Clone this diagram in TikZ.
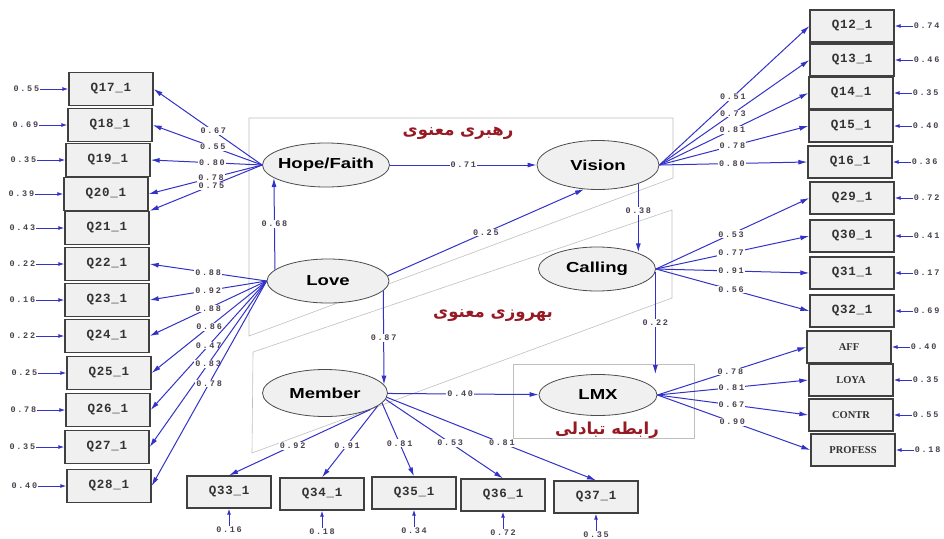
\documentclass[tikz,border=0pt]{standalone}
\usepackage{fontspec}
\setmainfont{Liberation Sans}
\newfontfamily\boxfont[LetterSpace=6]{Liberation Mono}
\newfontfamily\numfont[LetterSpace=20]{Liberation Mono}
\newfontfamily\latfont[FakeStretch=1.28]{Liberation Sans}
\newfontfamily\indfont{Liberation Serif}
\newfontfamily\farsifont[Script=Arabic]{DejaVu Sans}
\TeXXeTstate=1
\usepackage{tikz}
\usetikzlibrary{arrows.meta}
\usetikzlibrary{calc}
\usetikzlibrary{positioning}
\usetikzlibrary{shapes.geometric}
\definecolor{pathblue}{RGB}{50,50,200}
\definecolor{boxgray}{RGB}{240,240,240}
\definecolor{numgray}{RGB}{75,65,80}
\definecolor{farsired}{RGB}{150,25,35}

\begin{document}
\begin{tikzpicture}[x=1pt, y=-1pt,
    obs/.style={rectangle, draw=black!75, line width=1.3pt, fill=boxgray, minimum width=84pt, minimum height=32pt, inner sep=0pt, text=black!80, font=\boxfont\bfseries\fontsize{12.5}{12.5}\selectfont},
    ind/.style={obs, font=\indfont\bfseries\fontsize{10.5}{10.5}\selectfont},
    lat/.style={ellipse, draw=black!70, line width=0.8pt, fill=boxgray, minimum width=122pt, minimum height=44pt, inner xsep=-12pt, inner ysep=0pt, font=\latfont\bfseries\fontsize{14.5}{14.5}\selectfont},
    grp/.style={draw=black!25, line width=0.6pt},
    link/.style={draw=pathblue, line width=1pt, -{Latex[length=9pt,width=5pt]}},
    errlink/.style={draw=pathblue, line width=1pt, -{Latex[length=6pt,width=4pt]}},
    est/.style={fill=white, inner sep=1pt, text=numgray, font=\numfont\bfseries\fontsize{8.5}{8.5}\selectfont},
    err/.style={inner sep=1pt, text=numgray, font=\numfont\bfseries\fontsize{8.5}{8.5}\selectfont},
    farsi/.style={text=farsired, font=\farsifont\bfseries\fontsize{16.5}{16.5}\selectfont}]
    \useasboundingbox (0,0) rectangle (944,538);

    \draw[grp] (249,118) -- (673,118) -- (673,178) -- (249,336) -- cycle;
    \draw[grp] (253,352) -- (672,210) -- (672,298) -- (252,453) -- cycle;
    \draw[grp] (513,364) rectangle (694,438);

    \node[farsi] (leadtext) at (458,133) {\beginR رهبری معنوی\endR};
    \node[farsi] (welltext) at (493,316) {\beginR بهروزی معنوی\endR};
    \node[farsi] (lmxtext) at (607,430) {\beginR رابطه تبادلی\endR};

    \node[lat, minimum width=127pt] (hope) at (326,165) {Hope/Faith};
    \node[lat, minimum height=49pt] (vision) at (598,165) {Vision};
    \node[lat] (love) at (328,281) {Love};
    \node[lat, minimum width=117pt] (calling) at (597,269) {Calling};
    \node[lat, minimum width=125pt, minimum height=47pt] (member) at (325,393) {Member};
    \node[lat, minimum width=118pt, minimum height=41pt] (lmx) at (598,395) {LMX};

    \draw[link] (hope) -- (vision) node[est, pos=.5] {0.71};
    \draw[link] (love.168) -- (hope.194) node[est, pos=.5] {0.68};
    \draw[link] (love.5) -- (vision.240) node[est, pos=.5] {0.25};
    \draw[link] (vision.-25) -- (vision.-25 |- calling.23) node[est, pos=.4] {0.38};
    \draw[link] (love.-10) -- (member.8) node[est, pos=.5] {0.87};
    \draw[link] (calling.-3) -- (calling.-3 |- lmx.north) node[est, pos=.5] {0.22};
    \draw[link] (member) -- (lmx) node[est, pos=.48] {0.40};

    \foreach \i/\x/\y/\e in {17/111/89/0.55, 18/110/125/0.69, 19/108/160/0.35, 20/106/194/0.39,
        21/107/228/0.43, 22/107/264/0.22, 23/107/300/0.16, 24/107/336/0.22, 25/109/373/0.25,
        26/108/410/0.78, 27/107/447/0.35, 28/109/486/0.40}
    {
        \node[obs, minimum height=33pt] (q\i) at (\x,\y) {Q\i\_1};
        \node[err, left=28pt of q\i] (e\i) {\e};
        \draw[errlink] (e\i) -- (q\i);
    }
    \foreach \i/\x/\y/\e in {12/852/26/0.74, 13/852/60/0.46, 14/851/93/0.35, 15/851/126/0.40,
        16/850/162/0.36, 29/852/198/0.72, 30/852/236/0.41, 31/852/273/0.17, 32/852/311/0.69}
    {
        \node[obs] (q\i) at (\x,\y) {Q\i\_1};
        \node[err, right=18pt of q\i] (e\i) {\e};
        \draw[errlink] (e\i) -- (q\i);
    }
    \foreach \n/\t/\x/\y/\l/\e in {aff/AFF/849/347/0.78/0.40, loya/LOYA/851/380/0.81/0.35,
        contr/CONTR/851/415/0.67/0.55, profess/PROFESS/853/450/0.90/0.18}
    {
        \node[ind] (\n) at (\x,\y) {\t};
        \node[err, right=18pt of \n] (e\n) {\e};
        \draw[errlink] (e\n) -- (\n);
        \draw[link] (lmx.east) -- (\n.west) node[est, pos=.49] {\l};
    }
    \foreach \i/\x/\y/\a/\l/\e in {33/229/492/-20/0.92/0.16, 34/322/494/-14/0.91/0.18,
        35/414/493/-10/0.81/0.34, 36/503/495/-6/0.53/0.72, 37/596/497/-4/0.81/0.35}
    {
        \node[obs] (q\i) at (\x,\y) {Q\i\_1};
        \node[err, below=17pt of q\i] (e\i) {\e};
        \draw[errlink] (e\i) -- (q\i);
        \draw[link] (member.\a) -- (q\i.north) node[est, pos=.55] {\l};
    }

    \foreach \i/\l/\a in {17/0.67/east, 18/0.55/east, 19/0.80/east, 20/0.78/east, 21/0.75/north east}
        \draw[link] (hope.west) -- (q\i.\a) node[est, pos=.45] {\l};
    \foreach \i/\l in {22/0.88, 23/0.92, 24/0.88, 25/0.86, 26/0.47, 27/0.83, 28/0.78}
        \draw[link] (love.west) -- (q\i.east) node[est, pos=.5] {\l};
    \foreach \i/\l in {12/0.51, 13/0.73, 14/0.81, 15/0.78, 16/0.80}
        \draw[link] (vision.east) -- (q\i.west) node[est, pos=.49] {\l};
    \foreach \i/\l in {29/0.53, 30/0.77, 31/0.91, 32/0.56}
        \draw[link] (calling.east) -- (q\i.west) node[est, pos=.49] {\l};
\end{tikzpicture}
\end{document}
